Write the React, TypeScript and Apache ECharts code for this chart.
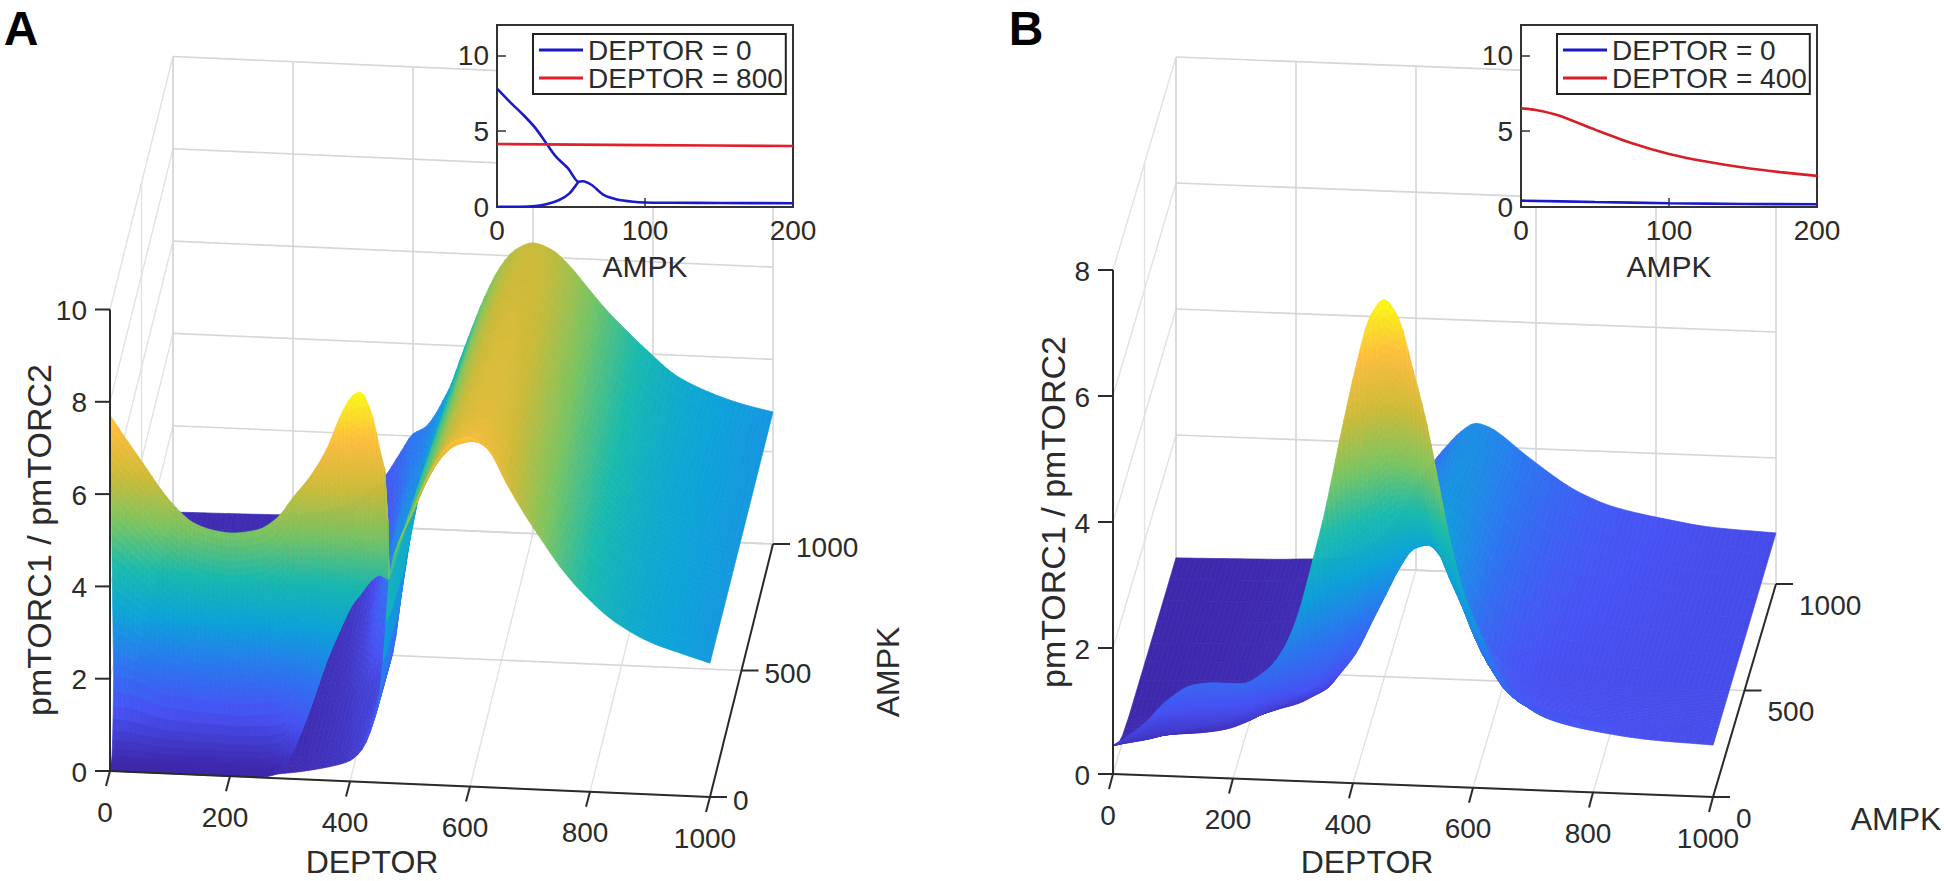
import React, { useEffect, useRef } from "react";
import * as echarts from "echarts";

// ---------- inset data ----------
const insetA0UpperX = [0, 9, 18, 26, 34, 40, 48, 55, 58, 64, 72, 81, 92, 100, 120, 150, 200];
const insetA0UpperY = [7.8, 6.9, 6.05, 5.2, 4.1, 3.3, 2.55, 1.66, 1.7, 1.45, 0.8, 0.5, 0.35, 0.3, 0.28, 0.26, 0.25];
const insetA0LowerX = [0, 15, 26, 34, 42, 49, 55];
const insetA0LowerY = [0.02, 0.02, 0.06, 0.2, 0.46, 0.9, 1.66];
const insetA800X = [0, 100, 200];
const insetA800Y = [4.15, 4.08, 4.02];
const insetB0X = [0, 50, 100, 150, 200];
const insetB0Y = [0.42, 0.33, 0.25, 0.2, 0.18];
const insetB400X = [0, 10, 25, 50, 75, 100, 125, 150, 175, 200];
const insetB400Y = [6.5, 6.4, 6.05, 5.1, 4.2, 3.5, 3.0, 2.6, 2.3, 2.05];
const insetXTicks = [0, 100, 200];
const insetYTicks = [0, 5, 10];

// ---------- surface A: sheet rows by AMPK ----------
const aDeptor = [0, 100, 200, 300, 350, 380, 400, 420, 440, 450, 460, 465, 480, 500, 520, 545, 570, 600, 630, 660, 690, 720, 750, 790, 840, 900, 950, 1000];
const aRowAmpk = [1000, 750, 500, 250, 60, 0];
const aRow1000 = [0.13, 0.15, 0.18, 0.5, 1.05, 1.65, 2.05, 2.2, 2.55, 2.8, 3.05, 3.2, 3.75, 4.45, 5.1, 5.74, 6.13, 6.3, 6.18, 5.85, 5.4, 4.95, 4.56, 4.08, 3.55, 3.2, 3.0, 2.86];
const aRow750 = [0.1, 0.12, 0.15, 0.3, 0.6, 1.2, 1.75, 2.35, 2.65, 2.95, 3.25, 3.45, 4.05, 4.7, 5.35, 5.95, 6.32, 6.48, 6.33, 5.98, 5.5, 5.03, 4.62, 4.12, 3.58, 3.22, 3.02, 2.87];
const aRow500 = [0.08, 0.1, 0.12, 0.2, 0.4, 0.8, 1.5, 2.5, 2.8, 3.1, 3.35, 3.75, 4.4, 4.95, 5.5, 6.1, 6.45, 6.62, 6.45, 6.08, 5.6, 5.1, 4.68, 4.16, 3.62, 3.25, 3.05, 2.88];
const aRow250 = [0.05, 0.07, 0.09, 0.15, 0.3, 0.45, 0.6, 0.7, 1.2, 1.8, 3.1, 4.1, 4.7, 5.2, 5.8, 6.3, 6.62, 6.78, 6.6, 6.2, 5.7, 5.2, 4.75, 4.2, 3.66, 3.28, 3.07, 2.89];
const aRow60 = [0.02, 0.03, 0.04, 0.13, 0.27, 0.38, 0.5, 0.7, 1.3, 1.9, 3.3, 4.3, 5.0, 5.6, 6.2, 6.75, 7.05, 7.15, 6.95, 6.42, 5.87, 5.33, 4.82, 4.25, 3.7, 3.29, 3.08, 2.9];
const aRow0 = [0, 0, 0, 0.13, 0.25, 0.35, 0.45, 0.7, 1.35, 2.0, 3.5, 4.45, 5.2, 5.79, 6.43, 7.05, 7.45, 7.57, 7.32, 6.62, 5.97, 5.4, 4.85, 4.27, 3.72, 3.3, 3.09, 2.9];

// surface A: the folded upper branch at low AMPK
const foldDeptor = [0, 30, 55, 85, 110, 140, 170, 200, 245, 280, 305, 333, 362, 383, 405, 417, 438, 450, 458, 463, 465];
const foldTop = [7.71, 7.15, 6.7, 6.15, 5.77, 5.45, 5.32, 5.27, 5.36, 5.66, 6.1, 6.56, 7.2, 7.88, 8.37, 8.45, 7.92, 7.2, 6.8, 5.7, 4.45];
const foldMid = [1.8, 1.7, 1.55, 1.4, 1.35, 1.3, 1.3, 1.25, 1.3, 1.4, 1.8, 2.7, 3.5, 4, 4.6, 4.8, 5, 5, 5, 4.9, 4.4];
const foldMidAmpk = [58, 58, 58, 58, 58, 58, 58, 58, 58, 50, 40, 30, 20, 15, 10, 8, 5, 3, 1, 0, 0];
const foldBottom = [0, 0, 0, 0, 0, 0, 0, 0, 0, 0.1, 0.6, 1.5, 2.6, 3.25, 3.85, 4.05, 4.4, 4.5, 4.45, 4.42, 4.4];

// ---------- surface B ----------
const bDeptor = [0, 50, 90, 133, 173, 212, 257, 283, 307, 333, 350, 378, 407, 428, 452, 475, 500, 523, 545, 557, 578, 595, 617, 650, 678, 728, 812, 895, 1000];
const bRowAmpk = [1000, 600, 250, 150, 80, 40, 0];
const bRow1000 = [0.05, 0.06, 0.07, 0.08, 0.09, 0.11, 0.13, 0.18, 0.25, 0.4, 0.55, 0.95, 1.45, 1.72, 2.0, 2.23, 2.37, 2.31, 2.18, 2.09, 1.93, 1.81, 1.66, 1.45, 1.31, 1.13, 0.97, 0.86, 0.81];
const bRow600 = [0.05, 0.06, 0.07, 0.09, 0.11, 0.14, 0.2, 0.26, 0.35, 0.5, 0.65, 1.05, 1.55, 1.85, 2.2, 2.45, 2.55, 2.45, 2.25, 2.13, 1.9, 1.7, 1.48, 1.25, 1.12, 1.0, 0.91, 0.84, 0.81];
const bRow250 = [0.06, 0.07, 0.08, 0.1, 0.13, 0.17, 0.3, 0.38, 0.5, 0.65, 0.85, 1.2, 1.75, 2.15, 2.6, 2.9, 2.97, 2.75, 2.42, 2.2, 1.8, 1.45, 1.2, 1.0, 0.92, 0.87, 0.85, 0.83, 0.82];
const bRow150 = [0.1, 0.12, 0.16, 0.2, 0.27, 0.42, 0.67, 0.8, 0.93, 1.2, 1.5, 2.1, 2.9, 3.3, 3.6, 3.75, 3.7, 3.3, 2.8, 2.55, 2.1, 1.72, 1.35, 1.08, 0.97, 0.92, 0.87, 0.85, 0.82];
const bRow80 = [0.2, 0.3, 0.42, 0.55, 0.65, 0.8, 1.1, 1.3, 1.6, 2.2, 2.7, 3.6, 4.3, 4.8, 5.0, 4.9, 4.6, 4.0, 3.4, 3.1, 2.5, 2.1, 1.7, 1.25, 1.08, 0.98, 0.9, 0.85, 0.82];
const bRow40 = [0.32, 0.55, 0.8, 1.0, 1.08, 1.15, 1.42, 1.7, 2.1, 2.85, 3.4, 4.5, 5.5, 6.2, 6.45, 6.25, 5.6, 4.85, 4.0, 3.6, 2.9, 2.45, 2.0, 1.45, 1.22, 1.05, 0.93, 0.86, 0.82];
const bRow0 = [0.45, 0.8, 1.2, 1.46, 1.51, 1.51, 1.75, 2.07, 2.6, 3.52, 4.16, 5.45, 6.7, 7.41, 7.7, 7.43, 6.6, 5.75, 4.7, 4.12, 3.29, 2.82, 2.35, 1.72, 1.4, 1.13, 0.96, 0.87, 0.825];

// ---------- 3D axis ticks ----------
const deptorTicks = [0, 200, 400, 600, 800, 1000];
const ampkTicks = [0, 500, 1000];
const zTicksA = [0, 2, 4, 6, 8, 10];
const zTicksB = [0, 2, 4, 6, 8];

type Panel = { x0: number; y0: number; dx: number; dy: number; ax: number; ay: number; zs: number; zMax: number };
const panelA: Panel = { x0: 110, y0: 771, dx: 0.6, dy: 0.026, ax: 0.063, ay: 0.253, zs: 46.15, zMax: 8.45 };
const panelB: Panel = { x0: 1113, y0: 774, dx: 0.6, dy: 0.023, ax: 0.063, ay: 0.213, zs: 63, zMax: 7.7 };

const proj = (p: Panel, d: number, a: number, z: number): [number, number] => [
  p.x0 + p.dx * d + p.ax * a,
  p.y0 + p.dy * d - p.ay * a - p.zs * z,
];

const parulaStops: [number, number, number, number][] = [
  [0, 0.2422, 0.1504, 0.6603],
  [0.125, 0.281, 0.3228, 0.9579],
  [0.25, 0.17, 0.47, 0.94],
  [0.375, 0.05, 0.64, 0.85],
  [0.5, 0.1, 0.73, 0.68],
  [0.625, 0.48, 0.77, 0.38],
  [0.75, 0.8, 0.73, 0.22],
  [0.875, 0.99, 0.74, 0.24],
  [1, 0.98, 0.98, 0.08],
];
function parula(tIn: number): string {
  const t = Math.max(0, Math.min(1, tIn));
  for (let i = 1; i < parulaStops.length; i++) {
    const s0 = parulaStops[i - 1];
    const s1 = parulaStops[i];
    if (t <= s1[0]) {
      const u = (t - s0[0]) / (s1[0] - s0[0]);
      const c = (k: number) => Math.round(255 * (s0[k] + (s1[k] - s0[k]) * u));
      return `rgb(${c(1)},${c(2)},${c(3)})`;
    }
  }
  return "rgb(250,250,20)";
}

// monotone curve through the read values: used only to draw a smooth mesh
function curve(xs: number[], ys: number[]) {
  const n = xs.length;
  const h: number[] = [];
  const s: number[] = [];
  for (let i = 0; i < n - 1; i++) {
    h.push(xs[i + 1] - xs[i]);
    s.push((ys[i + 1] - ys[i]) / h[i]);
  }
  const m: number[] = new Array(n).fill(0);
  m[0] = s[0];
  m[n - 1] = s[n - 2];
  for (let i = 1; i < n - 1; i++) {
    if (s[i - 1] * s[i] > 0) {
      const w1 = 2 * h[i] + h[i - 1];
      const w2 = h[i] + 2 * h[i - 1];
      m[i] = (w1 + w2) / (w1 / s[i - 1] + w2 / s[i]);
    }
  }
  return (x: number) => {
    let i = 0;
    while (i < n - 2 && x > xs[i + 1]) i++;
    const t = (x - xs[i]) / h[i];
    const t2 = t * t;
    const t3 = t2 * t;
    return (
      (2 * t3 - 3 * t2 + 1) * ys[i] +
      (t3 - 2 * t2 + t) * h[i] * m[i] +
      (-2 * t3 + 3 * t2) * ys[i + 1] +
      (t3 - t2) * h[i] * m[i + 1]
    );
  };
}

function fineColumns(xs: number[], step: number): number[] {
  const out: number[] = [xs[0]];
  for (let i = 1; i < xs.length; i++) {
    const n = Math.max(1, Math.ceil((xs[i] - xs[i - 1]) / step));
    for (let k = 1; k <= n; k++) out.push(xs[i - 1] + ((xs[i] - xs[i - 1]) * k) / n);
  }
  return out;
}

// mesh cells: [d,a,z] × 4, back rows first
function sheetCells(cols: number[], rowAmpk: number[], rows: number[][]): number[][] {
  const fine = fineColumns(cols, 9);
  const curves = rows.map((r) => curve(cols, r));
  const cells: number[][] = [];
  for (let r = 0; r < rows.length - 1; r++) {
    let maxStep = 0;
    rows[r].forEach((v, i) => {
      maxStep = Math.max(maxStep, Math.abs(v - rows[r + 1][i]));
    });
    const subRows = Math.min(24, Math.max(4, Math.ceil(maxStep / 0.16)));
    for (let k = 0; k < subRows; k++) {
      const u0 = k / subRows;
      const u1 = (k + 1) / subRows;
      const a0 = rowAmpk[r] + (rowAmpk[r + 1] - rowAmpk[r]) * u0;
      const a1 = rowAmpk[r] + (rowAmpk[r + 1] - rowAmpk[r]) * u1;
      for (let c = 0; c < fine.length - 1; c++) {
        const d0 = fine[c];
        const d1 = fine[c + 1];
        const z = (d: number, u: number) => {
          const p = curves[r](d);
          const q = curves[r + 1](d);
          return p + (q - p) * u;
        };
        cells.push([d0, a0, z(d0, u0), d1, a0, z(d1, u0), d1, a1, z(d1, u1), d0, a1, z(d0, u1)]);
      }
    }
  }
  return cells;
}

function foldCells(): number[][] {
  const fine = fineColumns(foldDeptor, 9);
  const top = curve(foldDeptor, foldTop);
  const mid = curve(foldDeptor, foldMid);
  const midA = curve(foldDeptor, foldMidAmpk);
  const bot = curve(foldDeptor, foldBottom);
  const cells: number[][] = [];
  const strip = (
    zA: (d: number) => number,
    aA: (d: number) => number,
    zB: (d: number) => number,
    aB: (d: number) => number,
    n: number,
    zPow: number,
    aPow: number
  ) => {
    for (let k = 0; k < n; k++) {
      const u0 = k / n;
      const u1 = (k + 1) / n;
      for (let c = 0; c < fine.length - 1; c++) {
        const d0 = fine[c];
        const d1 = fine[c + 1];
        const pt = (d: number, u: number) => [
          d,
          aA(d) + (aB(d) - aA(d)) * Math.pow(u, aPow),
          zA(d) + (zB(d) - zA(d)) * Math.pow(u, zPow),
        ];
        cells.push([...pt(d0, u0), ...pt(d1, u0), ...pt(d1, u1), ...pt(d0, u1)]);
      }
    }
  };
  const zero = () => 0;
  strip(bot, zero, mid, midA, 10, 2, 0.5);
  strip(mid, midA, top, zero, 24, 1, 1);
  return cells;
}

function surfaceSeries(p: Panel, cells: number[][], z: number) {
  return {
    type: "custom",
    coordinateSystem: "none",
    silent: true,
    z,
    clip: false,
    progressive: 0,
    data: cells,
    renderItem: (_: any, api: any) => {
      const v = (i: number) => api.value(i) as number;
      const pts = [0, 3, 6, 9].map((o) => proj(p, v(o), v(o + 1), v(o + 2)));
      const col = parula((v(2) + v(5) + v(8) + v(11)) / 4 / p.zMax);
      return {
        type: "polygon",
        shape: { points: pts },
        style: { fill: col, stroke: col, lineWidth: 0.7 },
      };
    },
  };
}

// segments: [d0,a0,z0,d1,a1,z1,offsetX,offsetY]
function lineSeries(p: Panel, segs: number[][], color: string, width: number, z: number) {
  return {
    type: "custom",
    coordinateSystem: "none",
    silent: true,
    z,
    clip: false,
    progressive: 0,
    data: segs,
    renderItem: (_: any, api: any) => {
      const v = (i: number) => api.value(i) as number;
      const a = proj(p, v(0), v(1), v(2));
      const b = proj(p, v(3), v(4), v(5));
      return {
        type: "line",
        shape: { x1: a[0], y1: a[1], x2: b[0] + v(6), y2: b[1] + v(7) },
        style: { stroke: color, lineWidth: width },
      };
    },
  };
}

function wallSegments(zTicks: number[]) {
  const zTop = zTicks[zTicks.length - 1];
  const back: number[][] = [];
  const side: number[][] = [];
  deptorTicks.forEach((d) => {
    back.push([d, 1000, 0, d, 1000, zTop, 0, 0]);
    side.push([d, 0, 0, d, 1000, 0, 0, 0]);
  });
  zTicks.forEach((z) => {
    back.push([0, 1000, z, 1000, 1000, z, 0, 0]);
    side.push([0, 0, z, 0, 1000, z, 0, 0]);
  });
  ampkTicks.forEach((a) => {
    back.push([0, a, 0, 1000, a, 0, 0, 0]);
    side.push([0, a, 0, 0, a, zTop, 0, 0]);
  });
  return { back, side };
}

function axisSegments(zTicks: number[]) {
  const zTop = zTicks[zTicks.length - 1];
  const segs: number[][] = [
    [0, 0, 0, 0, 0, zTop, 0, 0],
    [0, 0, 0, 1000, 0, 0, 0, 0],
    [1000, 0, 0, 1000, 1000, 0, 0, 0],
  ];
  zTicks.forEach((z) => segs.push([0, 0, z, 0, 0, z, -15, 0]));
  deptorTicks.forEach((d) => segs.push([d, 0, 0, d, 0, 0, -4, 15]));
  ampkTicks.forEach((a) => segs.push([1000, a, 0, 1000, a, 0, 17, 0]));
  return segs;
}

const FONT = "Liberation Sans";
const INK = "#2b2b2b";

function label(text: string, x: number, y: number, size: number, align = "center", rotation = 0, weight = "normal") {
  return {
    type: "text",
    x,
    y,
    rotation,
    silent: true,
    z: 20,
    style: { text, fontFamily: FONT, fontSize: size, fontWeight: weight, fill: weight === "bold" ? "#000" : INK, align, verticalAlign: "middle" },
  };
}

function panelLabels(p: Panel, zTicks: number[], ampkDy: number) {
  const out: any[] = [];
  zTicks.forEach((z) => {
    const [x, y] = proj(p, 0, 0, z);
    out.push(label(String(z), x - 23, y + 1, 28, "right"));
  });
  deptorTicks.forEach((d) => {
    const [x, y] = proj(p, d, 0, 0);
    out.push(label(String(d), x - 5, y + 41, 28));
  });
  ampkTicks.forEach((a) => {
    const [x, y] = proj(p, 1000, a, 0);
    out.push(label(String(a), x + 23, y + ampkDy, 28, "left"));
  });
  return out;
}

function insetAxes(gridIndex: number) {
  return {
    x: {
      type: "value",
      gridIndex,
      min: 0,
      max: 200,
      interval: 100,
      z: 3,
      name: "AMPK",
      nameLocation: "middle",
      nameGap: 44,
      nameTextStyle: { fontFamily: FONT, fontSize: 30, color: INK },
      axisLine: { show: true, onZero: false, lineStyle: { color: "#333", width: 2 } },
      axisTick: { show: true, inside: true, length: 9, lineStyle: { color: "#333", width: 1.5 }, customValues: insetXTicks },
      axisLabel: { fontFamily: FONT, fontSize: 28, color: INK, margin: 9, customValues: insetXTicks },
      splitLine: { show: false },
    },
    y: {
      type: "value",
      gridIndex,
      min: 0,
      max: 12,
      z: 3,
      axisLine: { show: true, onZero: false, lineStyle: { color: "#333", width: 2 } },
      axisTick: { show: true, inside: true, length: 9, lineStyle: { color: "#333", width: 1.5 }, customValues: insetYTicks },
      axisLabel: { fontFamily: FONT, fontSize: 28, color: INK, margin: 8, customValues: insetYTicks },
      splitLine: { show: false },
    },
  };
}

function insetLine(name: string, xs: number[], ys: number[], color: string, axisIndex: number) {
  return {
    type: "line",
    name,
    xAxisIndex: axisIndex,
    yAxisIndex: axisIndex,
    data: xs.map((x, i) => [x, ys[i]]),
    showSymbol: false,
    symbol: "none",
    smooth: 0.25,
    silent: true,
    z: 4,
    lineStyle: { color, width: 2.6 },
    itemStyle: { color },
  };
}

function insetLegend(names: string[], left: number) {
  return {
    data: names,
    left,
    top: 34,
    orient: "vertical",
    icon: "rect",
    itemWidth: 44,
    itemHeight: 3,
    itemGap: 0,
    padding: [2, 3, 2, 6],
    borderColor: "#222",
    borderWidth: 2,
    backgroundColor: "#fff",
    selectedMode: false,
    z: 8,
    textStyle: { fontFamily: FONT, fontSize: 28, color: INK, height: 28, lineHeight: 28 },
  };
}

export default function App() {
  const ref = useRef<HTMLDivElement>(null);
  useEffect(() => {
    document.body.style.margin = "0";
    document.body.style.background = "#fff";
    const chart = echarts.init(ref.current!, undefined, { renderer: "svg" });
    const ia = insetAxes(0);
    const ib = insetAxes(1);
    const wallsA = wallSegments(zTicksA);
    const wallsB = wallSegments(zTicksB);
    const rowsA = [aRow1000, aRow750, aRow500, aRow250, aRow60, aRow0];
    const rowsB = [bRow1000, bRow600, bRow250, bRow150, bRow80, bRow40, bRow0];
    chart.setOption({
      animation: false,
      backgroundColor: "#fff",
      textStyle: { fontFamily: FONT },
      grid: [
        { left: 497, top: 25, width: 296, height: 182, show: true, z: 2, backgroundColor: "#fff", borderColor: "#333", borderWidth: 2 },
        { left: 1521, top: 25, width: 296, height: 182, show: true, z: 2, backgroundColor: "#fff", borderColor: "#333", borderWidth: 2 },
      ],
      xAxis: [ia.x, ib.x],
      yAxis: [ia.y, ib.y],
      legend: [insetLegend(["DEPTOR = 0", "DEPTOR = 800"], 533), insetLegend(["DEPTOR = 0 ", "DEPTOR = 400"], 1557)],
      series: [
        lineSeries(panelA, wallsA.side, "#e2e2e2", 1.4, 0),
        lineSeries(panelA, wallsA.back, "#d6d6d6", 1.6, 0),
        lineSeries(panelB, wallsB.side, "#e2e2e2", 1.4, 0),
        lineSeries(panelB, wallsB.back, "#d6d6d6", 1.6, 0),
        surfaceSeries(panelA, sheetCells(aDeptor, aRowAmpk, rowsA), 3),
        surfaceSeries(panelA, foldCells(), 3),
        surfaceSeries(panelB, sheetCells(bDeptor, bRowAmpk, rowsB), 3),
        lineSeries(panelA, axisSegments(zTicksA), "#2b2b2b", 2, 6),
        lineSeries(panelB, axisSegments(zTicksB), "#2b2b2b", 2, 6),
        insetLine("DEPTOR = 0", insetA0UpperX, insetA0UpperY, "#1a1acb", 0),
        insetLine("DEPTOR = 0", insetA0LowerX, insetA0LowerY, "#1a1acb", 0),
        insetLine("DEPTOR = 800", insetA800X, insetA800Y, "#e0202a", 0),
        insetLine("DEPTOR = 0 ", insetB0X, insetB0Y, "#1a1acb", 1),
        insetLine("DEPTOR = 400", insetB400X, insetB400Y, "#d81e26", 1),
      ],
      graphic: {
        elements: [
          label("A", 21, 28, 48, "center", 0, "bold"),
          label("B", 1026, 28, 48, "center", 0, "bold"),
          ...panelLabels(panelA, zTicksA, 3),
          ...panelLabels(panelB, zTicksB, 21),
          label("DEPTOR", 372, 862, 32),
          label("DEPTOR", 1367, 862, 32),
          label("pmTORC1 / pmTORC2", 39, 540, 34, "center", Math.PI / 2),
          label("pmTORC1 / pmTORC2", 1053, 512, 34, "center", Math.PI / 2),
          label("AMPK", 888, 672, 32, "center", Math.PI / 2),
          label("AMPK", 1896, 819, 32),
        ],
      },
    });
    return () => chart.dispose();
  }, []);
  return <div ref={ref} style={{ position: "absolute", left: 0, top: 0, width: 1944, height: 881 }} />;
}
